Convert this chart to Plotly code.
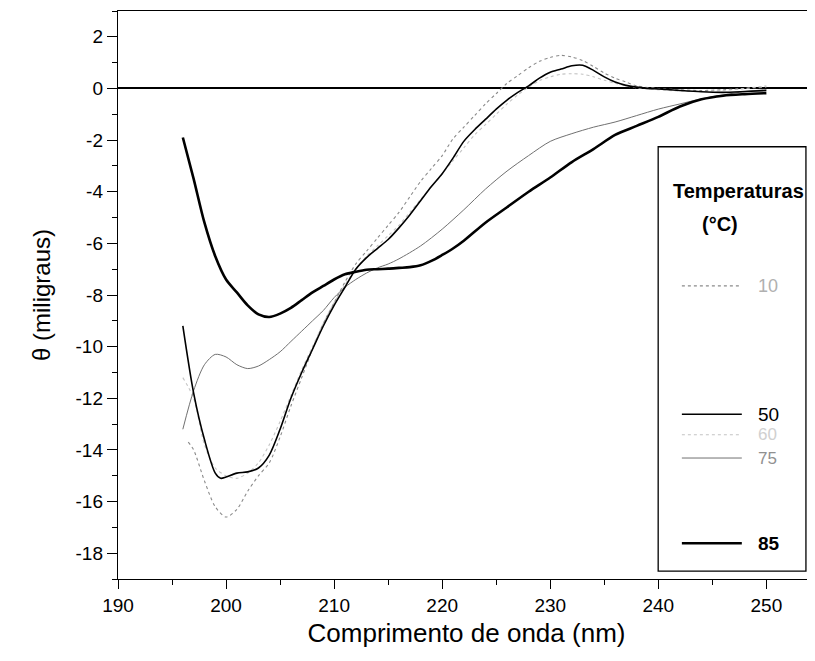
import plotly.graph_objects as go

# ---------------------------
# dados
# ---------------------------

wl_10 = [196.5, 197, 198, 199, 200, 201, 202, 203, 204, 205, 206, 207, 208, 209, 210, 211, 212, 213, 214, 215,
         216, 217, 218, 219, 220, 221, 222, 223, 224, 225, 226, 227, 228, 229, 230, 231, 232, 233, 234, 235,
         236, 237, 238, 240, 242, 244, 246, 248, 250]
theta_10 = [-13.7, -14.0, -15.2, -16.2, -16.6, -16.3, -15.6, -15.0, -14.5, -13.5, -12.3, -11.2, -10.1, -9.1, -8.3,
            -7.5, -6.8, -6.3, -5.8, -5.3, -4.8, -4.2, -3.6, -3.1, -2.6, -1.95, -1.5, -1.05, -0.6, -0.2, 0.2, 0.5,
            0.8, 1.05, 1.2, 1.28, 1.22, 1.08, 0.85, 0.6, 0.4, 0.25, 0.1, 0.0, -0.05, -0.08, -0.05, 0.0, 0.05]

wl_50 = [196, 197, 198, 199, 199.5, 200, 201, 202, 203, 204, 205, 206, 207, 208, 209, 210, 211, 212, 213, 214,
         215, 216, 217, 218, 219, 220, 221, 222, 223, 224, 225, 226, 227, 228, 229, 230, 231, 232, 233, 234,
         235, 236, 237, 238, 239, 240, 242, 244, 246, 248, 250]
theta_50 = [-9.2, -11.8, -13.6, -14.9, -15.1, -15.05, -14.9, -14.85, -14.7, -14.2, -13.2, -12.0, -11.0, -10.1,
            -9.2, -8.4, -7.7, -7.0, -6.55, -6.2, -5.85, -5.4, -4.9, -4.35, -3.8, -3.3, -2.7, -2.05, -1.6, -1.2,
            -0.8, -0.45, -0.15, 0.1, 0.4, 0.63, 0.75, 0.88, 0.9, 0.7, 0.45, 0.25, 0.12, 0.05, 0.0, -0.02, -0.08,
            -0.13, -0.15, -0.12, -0.08]

wl_60 = [196, 197, 198, 199, 200, 201, 202, 203, 204, 205, 206, 207, 208, 209, 210, 211, 212, 213, 214, 215,
         216, 217, 218, 219, 220, 221, 222, 223, 224, 225, 226, 227, 228, 229, 230, 231, 232, 233, 234, 235,
         236, 237, 238, 240, 242, 244, 246, 248, 250]
theta_60 = [-11.2, -12.0, -13.8, -14.7, -15.0, -15.1, -14.9, -14.5, -13.8, -12.9, -11.9, -10.9, -10.0, -9.1,
            -8.3, -7.6, -7.0, -6.5, -6.1, -5.7, -5.3, -4.8, -4.3, -3.8, -3.3, -2.8, -2.3, -1.8, -1.4, -1.0, -0.6,
            -0.25, 0.05, 0.3, 0.45, 0.55, 0.57, 0.55, 0.45, 0.32, 0.2, 0.1, 0.02, -0.05, -0.1, -0.12, -0.08,
            0.0, 0.1]

wl_75 = [196, 197, 198, 199, 200, 201, 202, 203, 204, 205, 206, 207, 208, 209, 210, 211, 212, 213, 214, 215,
         216, 218, 220, 222, 224, 226, 228, 230, 232, 234, 236, 238, 240, 242, 244, 246, 248, 250]
theta_75 = [-13.2, -11.7, -10.7, -10.3, -10.4, -10.7, -10.85, -10.75, -10.5, -10.2, -9.8, -9.4, -9.0, -8.6,
            -8.1, -7.7, -7.4, -7.15, -6.95, -6.8, -6.6, -6.1, -5.45, -4.7, -3.9, -3.2, -2.6, -2.05, -1.75, -1.5,
            -1.3, -1.05, -0.8, -0.6, -0.4, -0.25, -0.12, -0.05]

wl_85 = [196, 197, 198, 199, 200, 201, 202, 203, 204, 205, 206, 207, 208, 209, 210, 211, 212, 213, 214, 215,
         216, 217, 218, 219, 220, 221, 222, 224, 226, 228, 230, 232, 234, 236, 238, 240, 242, 244, 246, 248, 250]
theta_85 = [-1.9, -3.5, -5.2, -6.5, -7.4, -7.9, -8.4, -8.75, -8.85, -8.72, -8.5, -8.2, -7.9, -7.65, -7.4, -7.2,
            -7.1, -7.02, -7.0, -6.98, -6.95, -6.92, -6.85, -6.68, -6.45, -6.2, -5.9, -5.2, -4.6, -4.0, -3.45,
            -2.85, -2.35, -1.8, -1.45, -1.1, -0.7, -0.42, -0.28, -0.22, -0.18]

legend_labels = ['10', '50', '60', '75', '85']

x_ticks = [190, 200, 210, 220, 230, 240, 250]
y_ticks = [2, 0, -2, -4, -6, -8, -10, -12, -14, -16, -18]

# ---------------------------
# estilos
# ---------------------------

series = [
    (wl_10, theta_10, dict(color='#8a8a8a', width=1.1, dash='dot')),
    (wl_60, theta_60, dict(color='#c4c4c4', width=1.1, dash='dot')),
    (wl_75, theta_75, dict(color='#707070', width=1)),
    (wl_50, theta_50, dict(color='black', width=1.6)),
    (wl_85, theta_85, dict(color='black', width=2.6)),
]

fig = go.Figure()
for x, y, ln in series:
    fig.add_trace(go.Scatter(x=x, y=y, mode='lines', line=dict(shape='spline', smoothing=0.8, **ln),
                             showlegend=False, hoverinfo='skip'))

# ---------------------------
# legenda desenhada à mão
# ---------------------------

FONT = 'Liberation Sans, Arial, sans-serif'
shapes = [dict(type='rect', xref='paper', yref='paper', x0=0.775, x1=0.987, y0=0.014, y1=0.761,
               line=dict(color='black', width=1.3), fillcolor='white', layer='above')]
annotations = [
    dict(text='<b>Temperaturas</b>', x=0.89, y=0.683, xref='paper', yref='paper', showarrow=False,
         xanchor='center', yanchor='middle', font=dict(family=FONT, size=20, color='black')),
    dict(text='<b>(°C)</b>', x=0.864, y=0.625, xref='paper', yref='paper', showarrow=False,
         xanchor='center', yanchor='middle', font=dict(family=FONT, size=20, color='black')),
]
leg_y = [0.516, 0.290, 0.254, 0.213, 0.063]
leg_size = [18, 19, 17, 17, 19]
leg_line = [dict(color='#8a8a8a', width=1.1, dash='dot'), dict(color='black', width=1.6),
            dict(color='#c4c4c4', width=1.1, dash='dot'), dict(color='#707070', width=1),
            dict(color='black', width=2.6)]
leg_text = ['#b0b0b0', 'black', '#d0d0d0', '#909090', 'black']
for lab, yy, sz, ln, tc in zip(legend_labels, leg_y, leg_size, leg_line, leg_text):
    shapes.append(dict(type='line', xref='paper', yref='paper', x0=0.809, x1=0.895, y0=yy, y1=yy,
                       line=ln, layer='above'))
    txt = '<b>' + lab + '</b>' if lab == '85' else lab
    annotations.append(dict(text=txt, x=0.916, y=yy, xref='paper', yref='paper', showarrow=False,
                            xanchor='left', yanchor='middle', font=dict(family=FONT, size=sz, color=tc)))

# ---------------------------
# layout (a página tem 8px de margem no body)
# ---------------------------

fig.update_layout(
    width=807, height=640,
    margin=dict(l=110, r=0, t=3, b=69),
    plot_bgcolor='white', paper_bgcolor='white',
    font=dict(family=FONT, size=19, color='black'),
    shapes=shapes,
    annotations=annotations,
    xaxis=dict(range=[190, 254.5], tickvals=x_ticks, ticktext=[str(v) for v in x_ticks],
               ticks='outside', ticklen=9, tickwidth=1.2,
               tickcolor='black', showline=True, linecolor='black', linewidth=1.4, mirror=True,
               showgrid=False, zeroline=False,
               minor=dict(dtick=5, tick0=190, ticks='outside', ticklen=5, tickcolor='black'),
               title=dict(text='Comprimento de onda (nm)', font=dict(size=26), standoff=10),
               tickfont=dict(size=19)),
    yaxis=dict(range=[-19, 3], tickvals=y_ticks, ticktext=[str(v) for v in y_ticks],
               ticks='outside', ticklen=10, tickwidth=1.2,
               tickcolor='black', showline=True, linecolor='black', linewidth=1.4,
               showgrid=False, zeroline=True, zerolinecolor='black', zerolinewidth=1.5,
               minor=dict(dtick=1, tick0=0, ticks='outside', ticklen=5, tickcolor='black'),
               title=dict(text='θ (miligraus)', font=dict(size=24), standoff=18),
               tickfont=dict(size=19)),
)

fig.write_html("out.html")
